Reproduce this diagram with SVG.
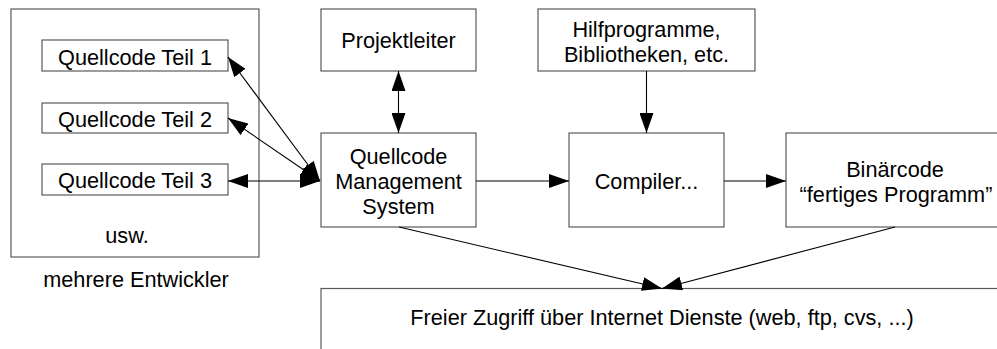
<svg xmlns="http://www.w3.org/2000/svg" width="997" height="349" viewBox="0 0 997 349">
<style>
.box{fill:#fff;stroke:#5a5a5a;stroke-width:1.2}
.t{font-family:"Liberation Sans",Arial,sans-serif;font-size:21.7px;fill:#000;text-anchor:middle}
.c{fill:none;stroke:#000;stroke-width:1.1}
</style>
<defs>
<marker id="ah" viewBox="0 0 20 14" refX="20" refY="7" markerWidth="20" markerHeight="14" markerUnits="userSpaceOnUse" orient="auto-start-reverse">
<path d="M0,0 L20,7 L0,14 Z" fill="#000"/>
</marker>
</defs>
<rect width="997" height="349" fill="#fff"/>
<g id="entwickler">
<rect class="box" x="11" y="9" width="248" height="248"/>
<text class="t" x="127" y="243">usw.</text>
<text class="t" x="136" y="287">mehrere Entwickler</text>
</g>
<g id="teil1"><rect class="box" x="42" y="40" width="186" height="31"/><text class="t" x="135" y="65">Quellcode Teil 1</text></g>
<g id="teil2"><rect class="box" x="42" y="103" width="186" height="30"/><text class="t" x="135" y="127">Quellcode Teil 2</text></g>
<g id="teil3"><rect class="box" x="42" y="164" width="186" height="31"/><text class="t" x="135" y="188">Quellcode Teil 3</text></g>
<g id="projektleiter"><rect class="box" x="321" y="9" width="155" height="62"/><text class="t" x="398.5" y="48">Projektleiter</text></g>
<g id="hilf"><rect class="box" x="538" y="9" width="217" height="62"/><text class="t" x="646.5" y="37">Hilfprogramme,</text><text class="t" x="646.5" y="62">Bibliotheken, etc.</text></g>
<g id="qms"><rect class="box" x="321" y="133" width="155" height="94"/><text class="t" x="398.5" y="164">Quellcode</text><text class="t" x="398.5" y="189">Management</text><text class="t" x="398.5" y="214">System</text></g>
<g id="compiler"><rect class="box" x="569" y="133" width="155" height="94"/><text class="t" x="646.5" y="189">Compiler...</text></g>
<g id="binaer"><rect class="box" x="786" y="133" width="230" height="94"/><text class="t" x="895" y="177">Binärcode</text><text class="t" x="896" y="202">“fertiges Programm”</text></g>
<g id="internet"><rect class="box" x="321" y="288.5" width="700" height="100"/><text class="t" x="662" y="325">Freier Zugriff über Internet Dienste (web, ftp, cvs, ...)</text></g>
<g id="connectors">
<line class="c" x1="228" y1="57" x2="320" y2="181" marker-start="url(#ah)" marker-end="url(#ah)"/>
<line class="c" x1="228" y1="118" x2="320" y2="181" marker-start="url(#ah)" marker-end="url(#ah)"/>
<line class="c" x1="228" y1="181" x2="320" y2="181" marker-start="url(#ah)" marker-end="url(#ah)"/>
<line class="c" x1="398.5" y1="71" x2="398.5" y2="133" marker-start="url(#ah)" marker-end="url(#ah)"/>
<line class="c" x1="646.5" y1="71" x2="646.5" y2="133" marker-end="url(#ah)"/>
<line class="c" x1="476" y1="181" x2="569" y2="181" marker-end="url(#ah)"/>
<line class="c" x1="724" y1="181" x2="786" y2="181" marker-end="url(#ah)"/>
<line class="c" x1="399" y1="227" x2="662" y2="288.5" marker-end="url(#ah)"/>
<line class="c" x1="895" y1="227" x2="662" y2="288.5" marker-end="url(#ah)"/>
</g>
</svg>
